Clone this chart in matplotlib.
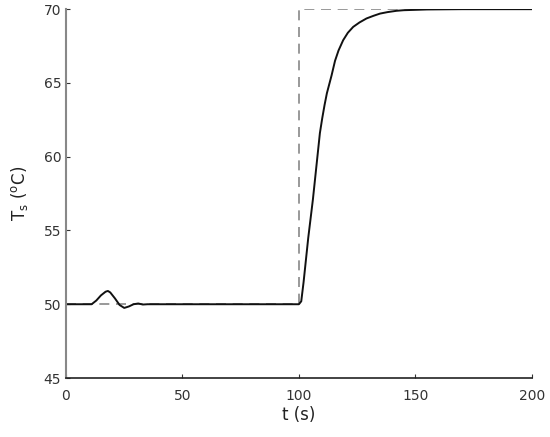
import matplotlib.pyplot as plt

# setpoint (dashed)
t_sp = [0, 100, 100, 200]
T_sp = [50, 50, 70, 70]

# measured response (solid)
t_meas = [0, 11, 13, 15, 17, 18, 19, 21, 23, 25, 27, 29, 31, 33, 35, 37, 60, 100,
          101, 102, 103, 104, 105, 106, 107, 108, 109, 110, 111, 112, 114, 115.5,
          117, 119, 121, 123.3, 126, 129, 132, 134.8, 138, 141.9, 145, 149, 155, 170, 200]
T_meas = [50, 50, 50.25, 50.6, 50.85, 50.9, 50.8, 50.4, 49.95, 49.75, 49.85, 50.0, 50.05, 49.98, 50.0, 50.0, 50.0, 50.0,
          50.2, 51.5, 53.0, 54.5, 55.8, 57.1, 58.6, 60.1, 61.6, 62.6, 63.5, 64.3, 65.5, 66.5,
          67.2, 67.9, 68.4, 68.8, 69.1, 69.37, 69.55, 69.7, 69.8, 69.89, 69.93, 69.95, 69.98, 70.0, 70.0]

fig = plt.figure(figsize=(5.5, 4.37), dpi=100)
ax = fig.add_axes([0.12, 0.135, 0.847, 0.844])

ax.plot(t_sp, T_sp, color='#888888', lw=1.2, dashes=(6, 4))
ax.plot(t_meas, T_meas, color='#111111', lw=1.4)

ax.set_xlim(0, 200)
ax.set_ylim(45, 70)
ax.set_xticks([0, 50, 100, 150, 200])
ax.set_yticks([45, 50, 55, 60, 65, 70])

for s in ['top', 'right']:
    ax.spines[s].set_visible(False)
ax.spines['left'].set_color('#888888')
ax.spines['left'].set_linewidth(1.5)
ax.spines['bottom'].set_color('#222222')
ax.spines['bottom'].set_linewidth(1.2)

ax.tick_params(direction='in', length=3, labelsize=10, colors='#333333')
ax.tick_params(axis='x', pad=8)

ax.set_xlabel('t (s)', fontsize=12, color='#222222', labelpad=2)
ax.set_ylabel(r'T$_{\mathrm{s}}$ ($^{\mathrm{o}}$C)', fontsize=12, color='#222222', labelpad=10)

plt.savefig('out.png', dpi=100)
